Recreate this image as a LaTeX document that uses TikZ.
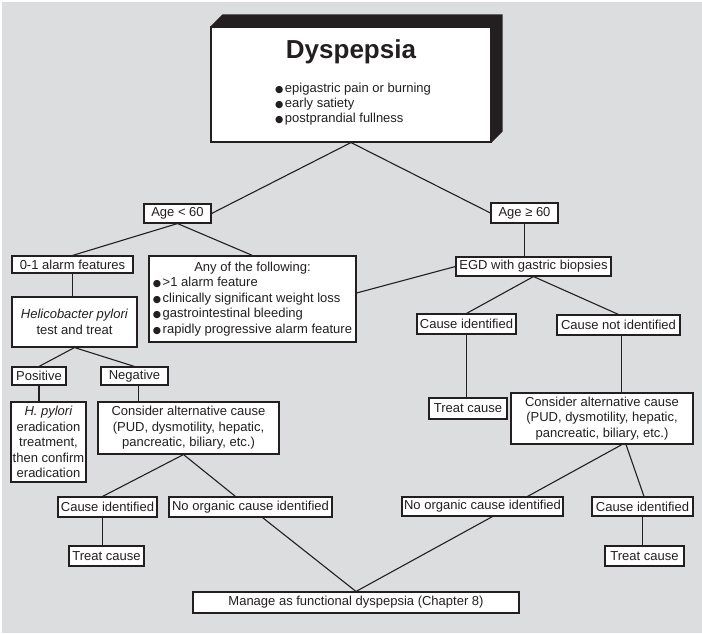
\documentclass[tikz,border=0pt]{standalone}
\usepackage{fontspec}
\setmainfont{Liberation Sans}
\newfontfamily\symfont{DejaVu Sans}
\usetikzlibrary{calc}
\definecolor{bggray}{RGB}{220,221,223}
\definecolor{ink}{RGB}{35,31,32}
% filled round bullet followed by a thin gap
\newcommand\blt{{\symfont\fontsize{9.5}{10}\selectfont ●}\hspace{1.5pt}}

\begin{document}
\begin{tikzpicture}[x=1pt,y=-1pt,
  box/.style={draw=ink, line width=1.1pt, fill=white, inner sep=0pt,
    align=center, text=ink, font=\fontsize{13}{15.5}\selectfont},
  link/.style={draw=ink, line width=1.1pt}]

% page background
\fill[white] (0,0) rectangle (702,633);
\fill[bggray] (1.5,1.5) rectangle (702,633);
\useasboundingbox (0,0) rectangle (702,633);

% ---- title block with a solid 3D edge ----
\node[box, minimum width=280pt, minimum height=115pt] (dys) at (351,84.5) {};
\fill[ink] (dys.north west) -- ++(12,-12) -- ($(dys.north east)+(11,-12)$)
  -- ($(dys.south east)+(11,-11)$) -- (dys.south east) -- (dys.north east) -- cycle;
\node[anchor=base, text=ink, font=\fontsize{26}{26}\selectfont\bfseries]
  (dystitle) at (351,58) {Dyspepsia};
\node[anchor=base west, inner sep=0pt, text=ink, font=\fontsize{13}{15}\selectfont]
  (dyslist) at (275,92) {\begin{tabular}[t]{@{}l@{}}
    \blt epigastric pain or burning\\
    \blt early satiety\\
    \blt postprandial fullness\end{tabular}};

% ---- left branch: age < 60 ----
\node[box, minimum width=67pt, minimum height=19pt] (age1) at (177.5,213.5) {Age < 60};
\node[box, minimum width=121pt, minimum height=17pt] (alarm) at (72.5,264.5) {0-1 alarm features};
\node[box, minimum width=207pt, minimum height=86pt] (any) at (252.5,299)
  {\begin{tabular}{@{}l@{}}
    \multicolumn{1}{@{}c@{}}{Any of the following:}\\
    \blt >1 alarm feature\\
    \blt clinically significant weight loss\\
    \blt gastrointestinal bleeding\\
    \blt rapidly progressive alarm feature\end{tabular}};
\node[box, minimum width=125pt, minimum height=50pt] (helico) at (74.5,322)
  {\textit{Helicobacter pylori}\\test and treat};
\node[box, minimum width=54pt, minimum height=18pt] (pos) at (39,376) {Positive};
\node[box, minimum width=67pt, minimum height=18pt] (neg) at (134.5,376) {Negative};
\node[box, minimum width=75pt, minimum height=80pt] (hpy) at (48.5,442)
  {\textit{H. pylori}\\eradication\\treatment,\\then confirm\\eradication};
\node[box, minimum width=181pt, minimum height=52pt] (consL) at (188.5,428)
  {Consider alternative cause\\(PUD, dysmotility, hepatic,\\pancreatic, biliary, etc.)};
\node[box, minimum width=99pt, minimum height=20pt] (ciL) at (107.5,507) {Cause identified};
\node[box, minimum width=163pt, minimum height=20pt] (noL) at (250.5,507) {No organic cause identified};
\node[box, minimum width=75pt, minimum height=20pt] (tcL) at (106.5,556) {Treat cause};

% ---- right branch: age >= 60 ----
\node[box, minimum width=67pt, minimum height=20pt] (age2) at (524.5,213) {Age ≥ 60};
\node[box, minimum width=155pt, minimum height=19pt] (egd) at (533.5,266.5) {EGD with gastric biopsies};
\node[box, minimum width=99pt, minimum height=20pt] (ciR) at (466.5,324) {Cause identified};
\node[box, minimum width=123pt, minimum height=20pt] (cni) at (618.5,325) {Cause not identified};
\node[box, minimum width=78pt, minimum height=21pt] (tcR) at (468,408.5) {Treat cause};
\node[box, minimum width=182pt, minimum height=51pt] (consR) at (602,418.5)
  {Consider alternative cause\\(PUD, dysmotility, hepatic,\\pancreatic, biliary, etc.)};
\node[box, minimum width=161pt, minimum height=19pt] (noR) at (482.5,506.5) {No organic cause identified};
\node[box, minimum width=101pt, minimum height=19pt] (ciR2) at (642.5,506.5) {Cause identified};
\node[box, minimum width=79pt, minimum height=20pt] (tcR2) at (644.5,556) {Treat cause};

% ---- common outcome ----
\node[box, minimum width=326pt, minimum height=21pt] (manage) at (356,602.5)
  {Manage as functional dyspepsia (Chapter 8)};

% ---- connectors ----
\draw[link] (age1.east) -- (dys.south) -- (age2.west);
\draw[link] (alarm.north) -- (age1.south) -- (any.north);
\draw[link] (alarm.south) -- (alarm.south |- helico.north);
\draw[link] (pos.north) -- (helico.south) -- (neg.north);
\draw[link] (pos.south) -- (pos.south |- hpy.north);
\draw[link] ($(neg.south)+(4,0)$) -- ($(neg.south |- consL.north)+(4,0)$);
\draw[link] ($(ciL.north)+(-5,0)$) -- ($(consL.south)+(-5,0)$) -- ($(noL.north)+(-15,0)$);
\draw[link] ($(ciL.south)+(-5,0)$) -- ($(ciL.south |- tcL.north)+(-5,0)$);
\draw[link] ($(noL.south)+(12,0)$) -- (manage.north);

\draw[link] (age2.south) -- (age2.south |- egd.north);
\draw[link] (egd.west) -- ($(any.east)+(0,-6)$);
\draw[link] (ciR.north) -- (egd.south) -- (cni.north);
\draw[link] (ciR.south) -- (ciR.south |- tcR.north);
\draw[link] ($(cni.south)+(3,0)$) -- ($(cni.south |- consR.north)+(3,0)$);
\draw[link] ($(consR.south)+(20,0)$) -- ($(noR.north)+(45,0)$);
\draw[link] ($(consR.south)+(24,0)$) -- ($(ciR2.north)+(1.5,0)$);
\draw[link] (ciR2.south) -- (ciR2.south |- tcR2.north);
\draw[link] ($(noR.south)+(10,0)$) -- (manage.north);
\end{tikzpicture}
\end{document}
